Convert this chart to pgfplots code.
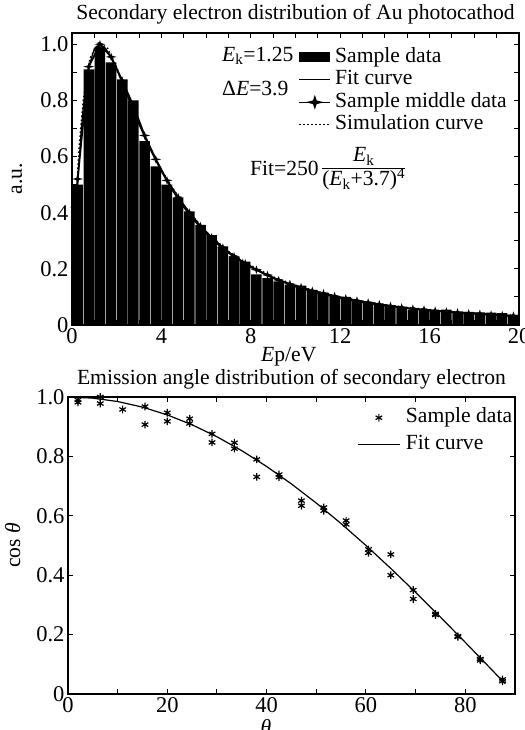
\documentclass[border=0pt]{standalone}
\usepackage{fontspec}
\setmainfont{Liberation Serif}
\usepackage{pgfplots}
\pgfplotsset{compat=1.18}
\newcommand{\fs}{\fontsize{21.6bp}{24bp}\selectfont}
\newcommand{\ft}{\fontsize{22.5bp}{25bp}\selectfont}
\pgfdeclareplotmark{fourstar}{%
  \pgfpathmoveto{\pgfqpoint{0pt}{0.8\pgfplotmarksize}}%
  \pgfpathlineto{\pgfqpoint{0.2\pgfplotmarksize}{0.2\pgfplotmarksize}}%
  \pgfpathlineto{\pgfqpoint{\pgfplotmarksize}{0pt}}%
  \pgfpathlineto{\pgfqpoint{0.2\pgfplotmarksize}{-0.2\pgfplotmarksize}}%
  \pgfpathlineto{\pgfqpoint{0pt}{-0.8\pgfplotmarksize}}%
  \pgfpathlineto{\pgfqpoint{-0.2\pgfplotmarksize}{-0.2\pgfplotmarksize}}%
  \pgfpathlineto{\pgfqpoint{-\pgfplotmarksize}{0pt}}%
  \pgfpathlineto{\pgfqpoint{-0.2\pgfplotmarksize}{0.2\pgfplotmarksize}}%
  \pgfpathclose
  \pgfusepathqfillstroke}
\pgfplotsset{myax/.style={
  scale only axis, anchor=south west,
  font=\fs,
  tick label style={font=\ft},
  /pgf/number format/assume math mode=true,
  axis line style={line width=1.5bp},
  tick style={line width=1bp, black},
  major tick length=5bp, minor tick length=5bp,
  tick align=inside,
  xtick pos=both, ytick pos=both,
  xticklabel pos=lower, yticklabel pos=left,
  legend cell align=left,
  title style={at={(0.5,1)},anchor=base,yshift=8bp,font=\fs},
}}
\begin{document}
\begin{tikzpicture}
\useasboundingbox (0,0) rectangle (525bp,730bp);
% ---------------- top panel ----------------
\begin{axis}[myax, at={(72bp,405bp)}, width=447bp, height=292bp,
  xmin=0, xmax=20, ymin=0, ymax=1.04,
  xtick={0,4,8,12,16,20},
  minor xtick={1,2,3,5,6,7,9,10,11,13,14,15,17,18,19},
  ytick={0,0.2,0.4,0.6,0.8,1.0}, yticklabels={0,0.2,0.4,0.6,0.8,1.0},
  minor ytick={0.1,0.3,0.5,0.7,0.9},
  title={Secondary electron distribution of Au photocathod},
  xlabel={\textit{E}p/eV}, ylabel={a.u.},
  xlabel style={at={(axis description cs:0.485,-0.1233)},anchor=base},
  ylabel style={at={(axis description cs:-0.112,0.5)},anchor=base},
  legend style={at={(axis description cs:0.500,0.962)},anchor=north west,
    draw=none, fill=none, font=\fs, column sep=3bp,
    nodes={inner sep=1.2bp, text height=15bp, text depth=5bp}},
]
\addplot[ybar, bar width=0.47, bar shift=0pt, fill=black, draw=none,
  legend image code/.code={\fill[black] (0bp,-5bp) rectangle (31bp,5bp);}]
coordinates {
(0.25,0.50) (0.75,0.91) (1.25,0.99) (1.75,0.935) (2.25,0.875) (2.75,0.80)
(3.25,0.655) (3.75,0.565) (4.25,0.50) (4.75,0.453) (5.25,0.405) (5.75,0.357)
(6.25,0.32) (6.75,0.28) (7.25,0.244) (7.75,0.226) (8.25,0.18) (8.75,0.167)
(9.25,0.155) (9.75,0.143) (10.25,0.14) (10.75,0.125) (11.25,0.115) (11.75,0.10)
(12.25,0.10) (12.75,0.086) (13.25,0.082) (13.75,0.072) (14.25,0.07) (14.75,0.062)
(15.25,0.055) (15.75,0.054) (16.25,0.05) (16.75,0.055) (17.25,0.048) (17.75,0.047)
(18.25,0.045) (18.75,0.044) (19.25,0.042) (19.75,0.036)
};
\addlegendentry{Sample data}
\addplot[black, line width=1.3bp,
  legend image code/.code={\draw[black,line width=1.1bp] (0bp,0bp) -- (31bp,0bp);}]
coordinates {
(0,0) (0.1,0.23) (0.25,0.493) (0.4,0.68) (0.5,0.772) (0.75,0.919) (1.0,0.984)
(1.25,1.0) (1.5,0.985) (1.75,0.953) (2.0,0.91) (2.25,0.862) (2.5,0.8125)
(2.75,0.763) (3.0,0.715) (3.5,0.625) (4.0,0.547) (4.5,0.478) (5.0,0.419)
(5.5,0.369) (6.0,0.3255) (6.5,0.288) (7.0,0.2565) (7.5,0.229) (8.0,0.205)
(9.0,0.166) (10.0,0.136) (11.0,0.113) (12.0,0.095) (13.0,0.080) (14.0,0.0685)
(15.0,0.059) (16.0,0.051) (17.0,0.0445) (18.0,0.039) (19.0,0.0344) (20.0,0.0304)
};
\addlegendentry{Fit curve}
\addplot[black, line width=1.8bp, mark=fourstar, mark size=1.8bp,
  legend image code/.code={\draw[black,line width=1.1bp] (0bp,0bp) -- (31bp,0bp);
    \fill[black] (15.5bp,4.5bp) -- (16.6bp,1.1bp) -- (21bp,0bp) -- (16.6bp,-1.1bp)
      -- (15.5bp,-4.5bp) -- (14.4bp,-1.1bp) -- (10bp,0bp) -- (14.4bp,1.1bp) -- cycle;}]
coordinates {
(0.15,0.42) (0.25,0.52) (0.75,0.92) (1.25,1.0) (1.75,0.955) (2.25,0.87) (2.75,0.78)
(3.25,0.675) (3.75,0.59) (4.25,0.515) (4.75,0.455) (5.25,0.40) (5.75,0.352)
(6.25,0.312) (6.75,0.276) (7.25,0.245) (7.75,0.22) (8.25,0.197) (8.75,0.178)
(9.25,0.16) (9.75,0.146) (10.25,0.135) (10.75,0.122) (11.25,0.113) (11.75,0.103)
(12.25,0.095) (12.75,0.087) (13.25,0.08) (13.75,0.074) (14.25,0.068) (14.75,0.063)
(15.25,0.058) (15.75,0.055) (16.25,0.051) (16.75,0.048) (17.25,0.045) (17.75,0.042)
(18.25,0.04) (18.75,0.037) (19.25,0.035) (19.75,0.033)
};
\addlegendentry{Sample middle data}
\addplot[black, line width=1.3bp, dash pattern=on 1.5bp off 2.5bp,
  legend image code/.code={\draw[black,line width=1.3bp,dash pattern=on 1.5bp off 2.5bp] (0bp,0bp) -- (31bp,0bp);}]
coordinates {
(0.1,0.3) (0.3,0.62) (0.5,0.8) (0.8,0.95) (1.2,1.008) (1.6,0.985) (2,0.918)
(2.5,0.818) (3,0.722) (3.5,0.632) (4,0.552) (5,0.427) (6,0.332) (7,0.262) (8,0.212)
(9,0.172) (10,0.142) (11,0.119) (12,0.1) (13,0.085) (14,0.073) (15,0.063)
(16,0.055) (17,0.048) (18,0.043) (19,0.038) (20,0.034)
};
\addlegendentry{Simulation curve}
\node[anchor=base west, inner sep=0pt, font=\fs] at (axis cs:6.71,0.940) {\textit{E}\textsubscript{k}=1.25};
\node[anchor=base west, inner sep=0pt, font=\fs] at (axis cs:6.71,0.819) {Δ\textit{E}=3.9};
\node[anchor=base west, inner sep=0pt, font=\fs] at (axis cs:7.96,0.534)
  {Fit=250\,{\renewcommand{\arraystretch}{0.85}\begin{tabular}{@{}c@{}}\textit{E}\textsubscript{k}\\\hline (\textit{E}\textsubscript{k}+3.7)\textsuperscript{4}\end{tabular}}};
\end{axis}
% ---------------- bottom panel ----------------
\begin{axis}[myax, at={(68bp,36bp)}, width=447bp, height=297bp,
  xmin=0, xmax=90, ymin=0, ymax=1,
  xtick={0,20,40,60,80}, minor xtick={10,30,50,70,90},
  ytick={0,0.2,0.4,0.6,0.8,1.0}, yticklabels={0,0.2,0.4,0.6,0.8,1.0},
  title={Emission angle distribution of secondary electron},
  title style={yshift=-1.5bp},
  xlabel={\textit{θ}}, ylabel={cos \textit{θ}},
  xlabel style={at={(axis description cs:0.443,-0.1347)},anchor=base},
  ylabel style={at={(axis description cs:-0.107,0.5)},anchor=base},
  legend style={at={(axis description cs:0.640,0.983)},anchor=north west,
    draw=none, fill=none, font=\fs, column sep=2bp,
    nodes={inner sep=3.5bp, text height=15bp, text depth=5bp}},
]
\addplot[only marks, mark=asterisk, mark size=3.8bp, line width=1.2bp, black,
  legend image code/.code={\draw[black,line width=1.2bp,mark size=3.8bp] plot[only marks, mark=asterisk] coordinates {(21bp,0bp)};}]
coordinates {
(2,0.990) (2,0.982) (6.5,1.0) (6.5,0.978) (11,1.002) (11,0.958)
(15.5,0.968) (15.5,0.907) (20,0.947) (20,0.918) (24.5,0.927) (24.5,0.911)
(29,0.876) (29,0.847) (33.5,0.846) (33.5,0.826) (38,0.790) (38,0.731)
(42.5,0.739) (42.5,0.730) (47,0.651) (47,0.634) (51.5,0.628) (51.5,0.617)
(56,0.584) (56,0.571) (60.5,0.487) (60.5,0.475) (65,0.470) (65,0.400)
(69.5,0.350) (69.5,0.320) (74,0.270) (74,0.266) (78.5,0.195) (78.5,0.192)
(83,0.118) (83,0.113) (87.5,0.049) (87.5,0.043)
};
\addlegendentry{Sample data}
\addplot[black, line width=1.2bp,
  legend image code/.code={\draw[black,line width=1.2bp] (0bp,0bp) -- (42bp,0bp);}]
coordinates {
(0,1) (5,0.9962) (10,0.9848) (15,0.9659) (20,0.9397) (25,0.9063) (30,0.8660)
(35,0.8192) (40,0.7660) (45,0.7071) (50,0.6428) (55,0.5736) (60,0.5)
(65,0.4226) (70,0.3420) (75,0.2588) (80,0.1736) (85,0.0872) (88,0.0349)
};
\addlegendentry{Fit curve}
\end{axis}
\end{tikzpicture}
\end{document}
